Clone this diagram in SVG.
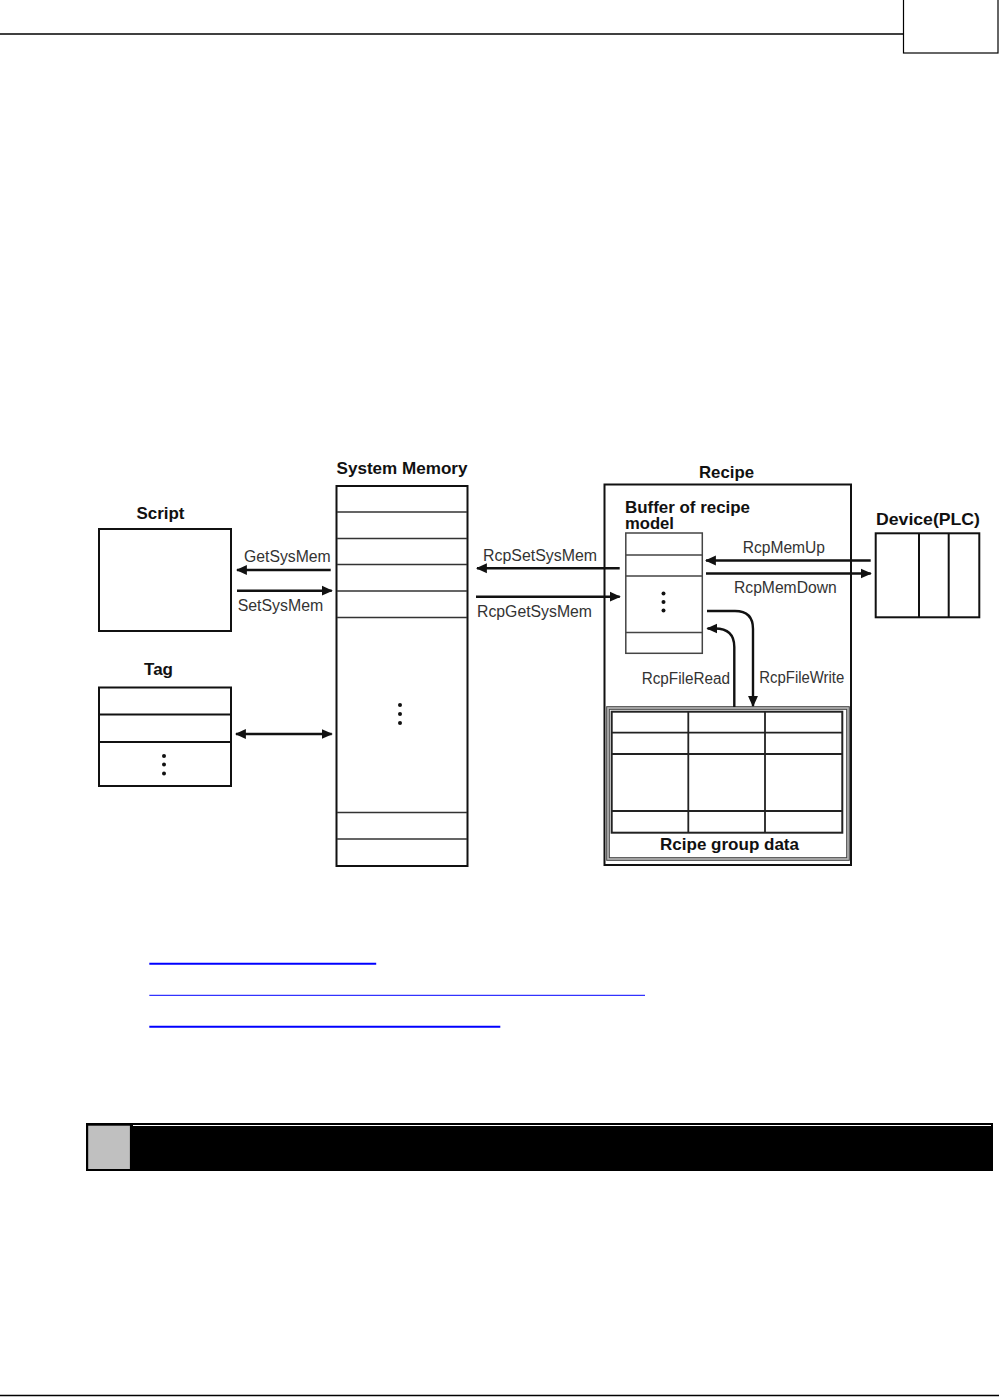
<svg xmlns="http://www.w3.org/2000/svg" width="999" height="1397" viewBox="0 0 999 1397">
<style>
.t{font-family:"Liberation Sans",Arial,sans-serif;font-weight:bold;font-size:16.5px;fill:#111}
.l{font-family:"Liberation Sans",Arial,sans-serif;font-size:16px;fill:#333}
.bx{fill:#fff;stroke:#111;stroke-width:2}
.in{stroke:#333;stroke-width:1.5;fill:none}
.ar{stroke:#111;stroke-width:2.4;fill:none}
.link{stroke:#0000ff}
</style>
<defs>
<marker id="ah" markerUnits="userSpaceOnUse" markerWidth="11" markerHeight="11" viewBox="0 0 10 9" refX="9" refY="4.5" orient="auto-start-reverse">
<path d="M0,0 L10,4.5 L0,9 z" fill="#111"/>
</marker>
</defs>
<rect width="999" height="1397" fill="#fff"/>
<g id="header">
<line x1="0" y1="34" x2="904" y2="34" stroke="#000" stroke-width="1.5"/>
<rect x="903.5" y="-1" width="94.5" height="54" fill="#fff" stroke="#000" stroke-width="1.2"/>
</g>
<g id="system-memory">
<text class="t" x="336.5" y="474" textLength="131" lengthAdjust="spacingAndGlyphs">System Memory</text>
<rect class="bx" x="336.5" y="486" width="131" height="380"/>
<path class="in" d="M337,512H467M337,538.5H467M337,564.5H467M337,591H467M337,617.5H467M337,812.5H467M337,839H467"/>
<circle cx="400" cy="705" r="2" fill="#111"/>
<circle cx="400" cy="714" r="2" fill="#111"/>
<circle cx="400" cy="723" r="2" fill="#111"/>
</g>
<g id="script">
<text class="t" x="160.5" y="518.5" text-anchor="middle" textLength="48" lengthAdjust="spacingAndGlyphs">Script</text>
<rect class="bx" x="99" y="529" width="132" height="102"/>
</g>
<g id="tag">
<text class="t" x="158.5" y="674.5" text-anchor="middle" textLength="29" lengthAdjust="spacingAndGlyphs">Tag</text>
<rect class="bx" x="99" y="687.5" width="132" height="98.5"/>
<path d="M99,714.5H231M99,742H231" stroke="#111" stroke-width="2"/>
<circle cx="164" cy="756" r="2" fill="#111"/>
<circle cx="164" cy="764.5" r="2" fill="#111"/>
<circle cx="164" cy="773.5" r="2" fill="#111"/>
</g>
<g id="recipe">
<text class="t" x="726.5" y="478" text-anchor="middle" textLength="55" lengthAdjust="spacingAndGlyphs">Recipe</text>
<rect class="bx" x="604.5" y="484.5" width="246.5" height="380.5"/>
</g>
<g id="buffer">
<text class="t" x="625" y="513" textLength="125" lengthAdjust="spacingAndGlyphs">Buffer of recipe</text>
<text class="t" x="625" y="528.5" textLength="49" lengthAdjust="spacingAndGlyphs">model</text>
<rect x="625.8" y="533" width="76.5" height="120.3" fill="#fff" stroke="#444" stroke-width="1.5"/>
<path d="M626,555H702M626,576H702M626,632.5H702" stroke="#444" stroke-width="1.5"/>
<circle cx="663.5" cy="593.5" r="2" fill="#111"/>
<circle cx="663.5" cy="602" r="2" fill="#111"/>
<circle cx="663.5" cy="610.5" r="2" fill="#111"/>
</g>
<g id="device">
<text class="t" x="876" y="525" textLength="104" lengthAdjust="spacingAndGlyphs">Device(PLC)</text>
<rect class="bx" x="875.7" y="533.3" width="103.6" height="84"/>
<path d="M919,533.3V617.3M948.7,533.3V617.3" stroke="#111" stroke-width="2"/>
</g>
<g id="group-data">
<rect x="608" y="708" width="240" height="151" fill="#fff" stroke="#bbb" stroke-width="3"/>
<rect x="606.7" y="706.7" width="242.6" height="153.6" fill="none" stroke="#444" stroke-width="1"/>
<rect x="609.3" y="709.3" width="237.4" height="148.4" fill="none" stroke="#444" stroke-width="1"/>
<rect x="611.7" y="711.7" width="230.6" height="121" fill="#fff" stroke="#222" stroke-width="2"/>
<path d="M688.3,711.7V832.7M765,711.7V832.7M611.7,732.7H842.3M611.7,754H842.3M611.7,811H842.3" stroke="#222" stroke-width="1.8"/>
<text class="t" x="729.5" y="850" text-anchor="middle" textLength="139" lengthAdjust="spacingAndGlyphs">Rcipe group data</text>
</g>
<g id="connectors">
<line class="ar" x1="330.7" y1="570" x2="237" y2="570" marker-end="url(#ah)"/>
<line class="ar" x1="237" y1="590.7" x2="331.7" y2="590.7" marker-end="url(#ah)"/>
<line class="ar" x1="236" y1="734" x2="331.7" y2="734" marker-start="url(#ah)" marker-end="url(#ah)"/>
<line class="ar" x1="619.7" y1="568.3" x2="477" y2="568.3" marker-end="url(#ah)"/>
<line class="ar" x1="476" y1="596.7" x2="619.7" y2="596.7" marker-end="url(#ah)"/>
<line class="ar" x1="870.7" y1="560.5" x2="706" y2="560.5" marker-end="url(#ah)"/>
<line class="ar" x1="706" y1="573.5" x2="870.7" y2="573.5" marker-end="url(#ah)"/>
<path class="ar" d="M707,611H735Q753,611 753,629V706" marker-end="url(#ah)"/>
<path class="ar" d="M734.3,707V647Q734.3,628.5 715,628.5H707.5" marker-end="url(#ah)"/>
<text class="l" x="244" y="561.7" textLength="86.7" lengthAdjust="spacingAndGlyphs">GetSysMem</text>
<text class="l" x="237.7" y="610.7" textLength="85.6" lengthAdjust="spacingAndGlyphs">SetSysMem</text>
<text class="l" x="483" y="561" textLength="114" lengthAdjust="spacingAndGlyphs">RcpSetSysMem</text>
<text class="l" x="477" y="616.7" textLength="115" lengthAdjust="spacingAndGlyphs">RcpGetSysMem</text>
<text class="l" x="742.7" y="552.7" textLength="82.3" lengthAdjust="spacingAndGlyphs">RcpMemUp</text>
<text class="l" x="734" y="592.7" textLength="102.7" lengthAdjust="spacingAndGlyphs">RcpMemDown</text>
<text class="l" x="641.7" y="684.3" textLength="88.3" lengthAdjust="spacingAndGlyphs">RcpFileRead</text>
<text class="l" x="759.3" y="683.3" textLength="85" lengthAdjust="spacingAndGlyphs">RcpFileWrite</text>
</g>
<g id="links">
<line class="link" x1="149.3" y1="963.7" x2="376.2" y2="963.7" stroke-width="2"/>
<line class="link" x1="149.3" y1="995.3" x2="645" y2="995.3" stroke-width="1"/>
<line class="link" x1="149.3" y1="1026.7" x2="500.3" y2="1026.7" stroke-width="2"/>
</g>
<g id="section-bar">
<rect x="86" y="1123" width="907" height="48" fill="#000"/>
<rect x="88.2" y="1125.7" width="41.7" height="43.3" fill="#c0c0c0"/>
<line x1="133" y1="1125.5" x2="991" y2="1125.5" stroke="#fff" stroke-width="1"/>
</g>
<g id="footer">
<line x1="0" y1="1395.5" x2="999" y2="1395.5" stroke="#000" stroke-width="1.5"/>
</g>
</svg>
